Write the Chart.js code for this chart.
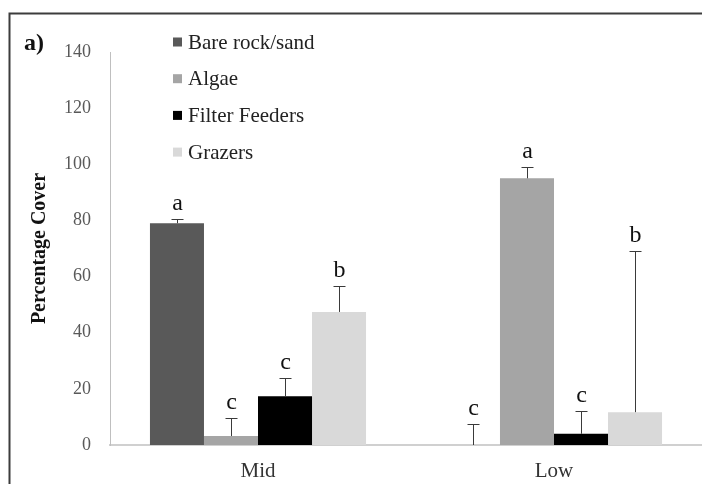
<!DOCTYPE html>
<html>
<head>
<meta charset="utf-8">
<script src="https://cdn.jsdelivr.net/npm/chart.js@4.4.0/dist/chart.umd.min.js"></script>
<style>
  html, body { margin: 0; padding: 0; background: #fff; }
  #wrap { width: 702px; height: 484px; position: relative; }
</style>
</head>
<body>
<div id="wrap"><canvas id="coverChart"></canvas></div>
<script>
// categories and tick labels
var sites = ['Mid', 'Low'];
var yTicks = [0, 20, 40, 60, 80, 100, 120, 140];

// mean percentage cover per group
var bareRock = [79, 0];
var algae = [3.2, 95];
var filterFeeders = [17.4, 4];
var grazers = [47.4, 11.7];

// upper error (SE) per group
var bareRockErr = [1.4, 7.5];
var algaeErr = [6.4, 4];
var filterFeedersErr = [6.4, 8];
var grazersErr = [9.2, 57.3];

// significance letters
var bareRockSig = ['a', 'c'];
var algaeSig = ['c', 'a'];
var filterFeedersSig = ['c', 'c'];
var grazersSig = ['b', 'b'];

var serif = "'Liberation Serif', 'Times New Roman', serif";

// error bars, letters, legend, panel label and frame
var extras = {
  id: 'extras',
  afterDatasetsDraw: function(chart) {
    var ctx = chart.ctx;
    var yScale = chart.scales.y;
    ctx.save();
    chart.data.datasets.forEach(function(ds, i) {
      var meta = chart.getDatasetMeta(i);
      meta.data.forEach(function(bar, j) {
        var top = yScale.getPixelForValue(ds.data[j] + ds.err[j]);
        var base = yScale.getPixelForValue(ds.data[j]);
        var x = Math.round(bar.x) + 0.5;
        ctx.strokeStyle = '#3a3a3a';
        ctx.lineWidth = 1;
        ctx.beginPath();
        ctx.moveTo(x, base);
        ctx.lineTo(x, Math.round(top) + 0.5);
        ctx.moveTo(x - 6, Math.round(top) + 0.5);
        ctx.lineTo(x + 6, Math.round(top) + 0.5);
        ctx.stroke();
        ctx.fillStyle = '#111';
        ctx.font = '24px ' + serif;
        ctx.textAlign = 'center';
        ctx.textBaseline = 'alphabetic';
        ctx.fillText(ds.sig[j], x, top - 9);
      });
    });

    // legend
    ctx.font = '21px ' + serif;
    ctx.textAlign = 'left';
    ctx.textBaseline = 'middle';
    chart.data.datasets.forEach(function(ds, i) {
      var y = 42 + i * 36.7;
      ctx.fillStyle = ds.backgroundColor;
      ctx.fillRect(173, y - 4.5, 9, 9);
      ctx.fillStyle = '#222';
      ctx.fillText(ds.label, 188, y + 1);
    });

    // panel label
    ctx.font = 'bold 24px ' + serif;
    ctx.fillStyle = '#111';
    ctx.fillText('a)', 24, 44);

    // outer frame
    ctx.strokeStyle = '#3c3c3c';
    ctx.lineWidth = 2;
    ctx.beginPath();
    ctx.moveTo(9.5, 484);
    ctx.lineTo(9.5, 13.5);
    ctx.lineTo(702, 13.5);
    ctx.stroke();
    ctx.restore();
  }
};

var ctx = document.getElementById('coverChart').getContext('2d');
var chart = new Chart(ctx, {
  type: 'bar',
  data: {
    labels: sites,
    datasets: [
      { label: 'Bare rock/sand', data: bareRock, err: bareRockErr, sig: bareRockSig, backgroundColor: '#595959' },
      { label: 'Algae', data: algae, err: algaeErr, sig: algaeSig, backgroundColor: '#a5a5a5' },
      { label: 'Filter Feeders', data: filterFeeders, err: filterFeedersErr, sig: filterFeedersSig, backgroundColor: '#000000' },
      { label: 'Grazers', data: grazers, err: grazersErr, sig: grazersSig, backgroundColor: '#d9d9d9' }
    ]
  },
  plugins: [extras],
  options: {
    responsive: true,
    maintainAspectRatio: false,
    animation: false,
    layout: { padding: { top: 52, right: 0, bottom: 0, left: 0 } },
    datasets: {
      bar: { categoryPercentage: 0.73, barPercentage: 1.0 }
    },
    plugins: {
      legend: { display: false },
      tooltip: { enabled: false }
    },
    scales: {
      x: {
        grid: { display: false, drawTicks: false },
        border: { display: true, color: '#d0d0d0', width: 2 },
        ticks: { color: '#333', font: { family: serif, size: 21 }, padding: 14 },
        afterFit: function(scale) { scale.height = 39; }
      },
      y: {
        min: 0,
        max: 140,
        afterBuildTicks: function(scale) {
          scale.ticks = yTicks.map(function(v) { return { value: v }; });
        },
        grid: { display: false, drawTicks: false },
        border: { display: true, color: '#bfbfbf', width: 1 },
        ticks: { color: '#595959', font: { family: serif, size: 18 }, padding: 19 },
        title: {
          display: true,
          text: 'Percentage Cover',
          color: '#111',
          font: { family: serif, size: 20, weight: 'bold' },
          padding: { top: 28, bottom: 0 }
        },
        afterFit: function(scale) { scale.width = 110; }
      }
    }
  }
});
</script>
</body>
</html>
